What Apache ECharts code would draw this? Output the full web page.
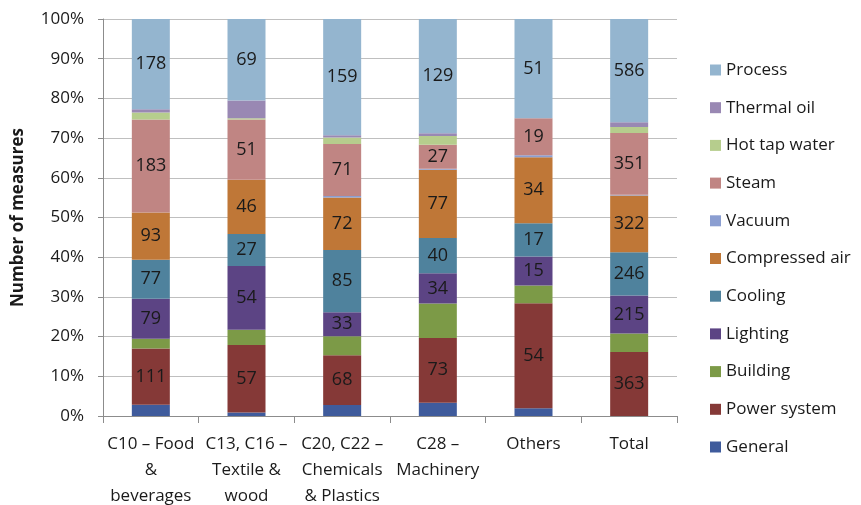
<!DOCTYPE html>
<html>
<head>
<meta charset="utf-8">
<script src="https://cdn.jsdelivr.net/npm/echarts@6/dist/echarts.min.js"></script>
<style>html,body{margin:0;padding:0;background:#fff}#c{width:861px;height:505px}</style>
</head>
<body>
<div id="c"></div>
<script>
const categories = ['C10 – Food\n&\nbeverages', 'C13, C16 –\nTextile &\nwood', 'C20, C22 –\nChemicals\n& Plastics', 'C28 –\nMachinery', 'Others', 'Total'];
const yTicks = ['0%','10%','20%','30%','40%','50%','60%','70%','80%','90%','100%'];

// counts per category (bottom to top of stack)
const general     = [22, 3, 15, 15, 4, 0];
const powerSystem = [111, 57, 68, 73, 54, 363];
const building    = [19, 13, 26, 39, 9, 106];
const lighting    = [79, 54, 33, 34, 15, 215];
const cooling     = [77, 27, 85, 40, 17, 246];
const compressed  = [93, 46, 72, 77, 34, 322];
const vacuum      = [0, 0, 2, 1, 1, 4];
const steam       = [183, 51, 71, 27, 19, 351];
const hotTap      = [14, 1, 9, 10, 0, 34];
const thermalOil  = [6, 15, 3, 3, 0, 27];
const process     = [178, 69, 159, 129, 51, 586];

const seriesDefs = [
  {name:'General', data:general, color:'#3f5b9c', label:false},
  {name:'Power system', data:powerSystem, color:'#853937', label:true},
  {name:'Building', data:building, color:'#7c9a47', label:false},
  {name:'Lighting', data:lighting, color:'#5c4484', label:true},
  {name:'Cooling', data:cooling, color:'#4f829d', label:true},
  {name:'Compressed air', data:compressed, color:'#bf7737', label:true},
  {name:'Vacuum', data:vacuum, color:'#8b9ed1', label:false},
  {name:'Steam', data:steam, color:'#c08583', label:true},
  {name:'Hot tap water', data:hotTap, color:'#b6cd8d', label:false},
  {name:'Thermal oil', data:thermalOil, color:'#9988b3', label:false},
  {name:'Process', data:process, color:'#94b5cf', label:true}
];

const totals = categories.map((_, i) => seriesDefs.reduce((s, d) => s + d.data[i], 0));
const FONT = '"Open Sans", sans-serif';

const series = seriesDefs.map(d => ({
  name: d.name,
  type: 'bar',
  stack: 'all',
  barWidth: 38,
  itemStyle: {color: d.color},
  label: {
    show: d.label,
    position: 'inside',
    color: '#1a1a1a',
    fontFamily: FONT,
    fontSize: 18,
    formatter: p => p.data.count > 0 ? String(p.data.count) : ''
  },
  data: d.data.map((v, i) => ({value: v / totals[i] * 100, count: v}))
}));

const chart = echarts.init(document.getElementById('c'), null, {renderer:'canvas'});
chart.setOption({
  animation: false,
  backgroundColor: '#fff',
  textStyle: {fontFamily: FONT},
  grid: {left: 103, right: 184, top: 19, bottom: 89, containLabel: false, outerBoundsMode: 'none'},
  legend: {
    orient: 'vertical',
    left: 710,
    top: 60,
    padding: 0,
    itemWidth: 11,
    itemHeight: 11,
    itemGap: 17.7,
    icon: 'rect',
    data: seriesDefs.slice().reverse().map(d => d.name),
    textStyle: {fontFamily: FONT, fontSize: 17, color: '#1a1a1a', lineHeight: 20}
  },
  xAxis: {
    type: 'category',
    data: categories,
    axisLine: {lineStyle: {color: '#8c8c8c'}},
    axisTick: {show: true, length: 7, lineStyle: {color: '#8c8c8c'}},
    axisLabel: {interval: 0, margin: 15, fontFamily: FONT, fontSize: 17, color: '#1a1a1a', lineHeight: 26}
  },
  yAxis: {
    type: 'value',
    min: 0, max: 100, interval: 10,
    name: 'Number of measures',
    nameLocation: 'middle',
    nameGap: 76,
    nameTextStyle: {fontFamily: FONT, fontSize: 17, fontWeight: 'bold', color: '#1a1a1a'},
    axisLine: {show: true, lineStyle: {color: '#8c8c8c'}},
    axisTick: {show: true, length: 5, lineStyle: {color: '#8c8c8c'}},
    splitLine: {lineStyle: {color: '#bfbfbf'}},
    axisLabel: {margin: 19, fontFamily: FONT, fontSize: 17, color: '#1a1a1a',
      formatter: v => yTicks[Math.round(v / 10)]}
  },
  series: series
});
</script>
</body>
</html>
